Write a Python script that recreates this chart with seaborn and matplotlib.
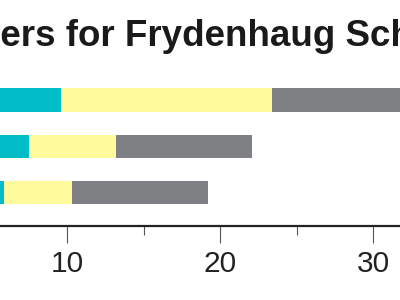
import matplotlib
matplotlib.use("Agg")
import matplotlib.pyplot as plt
import seaborn as sns
import pandas as pd
from matplotlib.ticker import FixedLocator

# ---- data ----
categories = ["2019", "2020", "2021"]
series_names = ["Lektor", "Adjunkt", "Andre"]
lektor = [9.6, 7.5, 5.9]
adjunkt = [13.8, 5.7, 4.4]
andre = [11.6, 8.9, 8.9]
colors = ["#00BDC8", "#FFFA9C", "#7F8083"]
major_ticks = [10, 20, 30]
minor_ticks = [5, 15, 25]
title = "Teachers for Frydenhaug School"
hidden_prefix = "Teach"

sns.set_theme(style="white")
plt.rcParams["font.family"] = ["Liberation Sans", "DejaVu Sans"]

df = pd.DataFrame({"cat": categories, "s1": lektor, "s2": adjunkt, "s3": andre})
df["c1"] = df["s1"]
df["c2"] = df["s1"] + df["s2"]
df["c3"] = df["s1"] + df["s2"] + df["s3"]

fig = plt.figure(figsize=(4, 3), dpi=100)
ax = fig.add_axes([-0.215, 0.2467, 1.3775, 0.5433])

for col, c in zip(["c3", "c2", "c1"], colors[::-1]):
    sns.barplot(data=df, x=col, y="cat", orient="h", color=c, saturation=1,
                width=0.5, linewidth=0, ax=ax)

ax.set_xlim(0, 36)
ax.set_ylim(2.72, -0.8)
ax.xaxis.set_major_locator(FixedLocator(major_ticks))
ax.xaxis.set_minor_locator(FixedLocator(minor_ticks))
ax.tick_params(axis="x", which="major", length=12.2, width=0.8, color="#555555",
               labelsize=21.5, labelcolor="#222222", pad=5, direction="out", bottom=True)
ax.tick_params(axis="x", which="minor", length=6.5, width=0.8, color="#555555",
               direction="out", bottom=True)
ax.tick_params(axis="y", left=False, labelleft=False)
ax.set_xlabel("")
ax.set_ylabel("")
for s in ["top", "right", "left"]:
    ax.spines[s].set_visible(False)
ax.spines["bottom"].set_color("#222222")
ax.spines["bottom"].set_linewidth(1.6)
ax.grid(False)

# title positioned so that only the middle part shows, as in the reference
tfont = dict(fontsize=26.45, fontweight="bold", color="#1a1a1a")
renderer = fig.canvas.get_renderer()
full = fig.text(0, 0, title, **tfont)
suffix = fig.text(0, 0, title[len(hidden_prefix):], **tfont)
wf = full.get_window_extent(renderer).width
ws = suffix.get_window_extent(renderer).width
full.remove(); suffix.remove()
x0 = -(wf - ws) / (fig.get_figwidth() * fig.dpi)
fig.text(x0, 0.8467, title, va="baseline", ha="left", **tfont)

fig.savefig("out.png", dpi=100)
